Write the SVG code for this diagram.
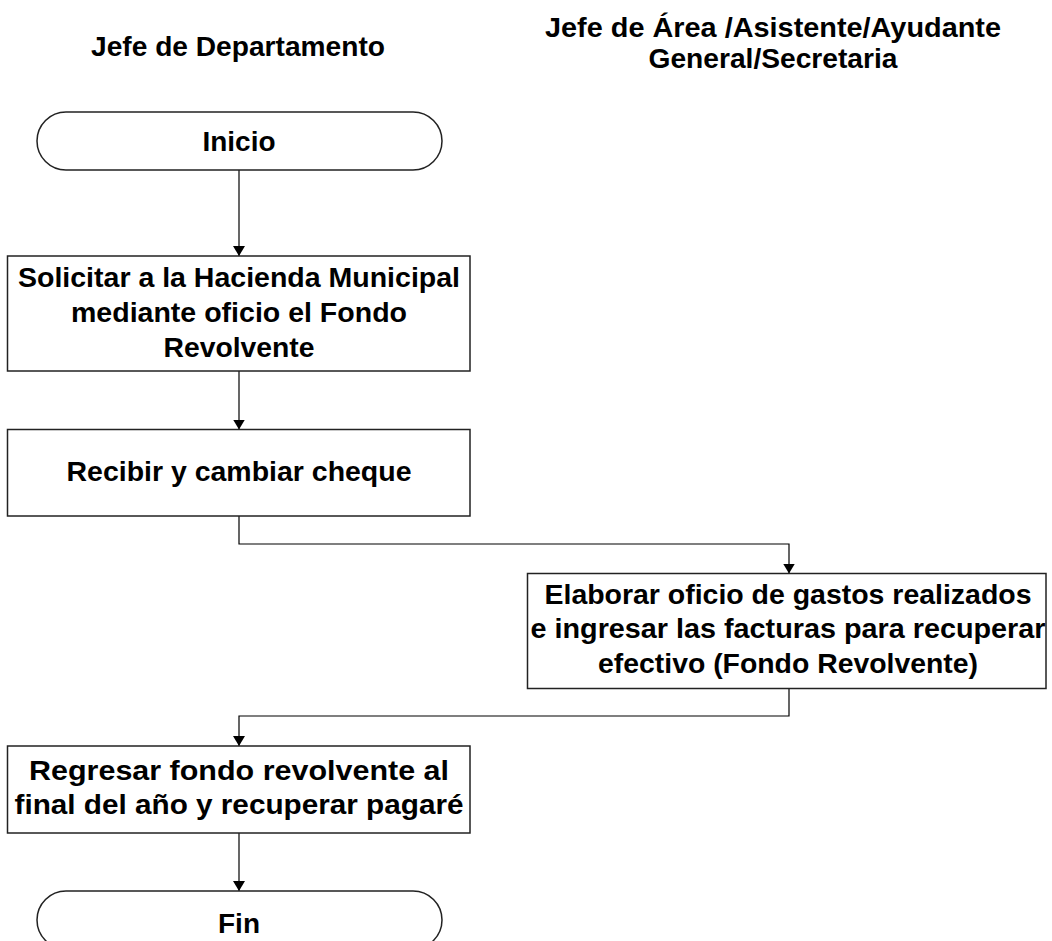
<svg xmlns="http://www.w3.org/2000/svg" width="1052" height="941" viewBox="0 0 1052 941">
<style>
.t{font-family:"Liberation Sans",Arial,sans-serif;font-weight:bold;font-size:28px;fill:#000;text-anchor:middle}
.box{fill:#fff;stroke:#222;stroke-width:1.5}
.ln{fill:none;stroke:#000;stroke-width:1.2}
</style>
<defs>
<marker id="ah" viewBox="0 0 10 12" refX="10" refY="6" markerWidth="10" markerHeight="12" markerUnits="userSpaceOnUse" orient="auto">
<path d="M0,0 L10,6 L0,12 Z" fill="#000"/>
</marker>
</defs>
<rect width="1052" height="941" fill="#fff"/>
<g id="headers">
<text class="t" x="238" y="56" textLength="294" lengthAdjust="spacingAndGlyphs">Jefe de Departamento</text>
<text class="t" x="773" y="37" textLength="456" lengthAdjust="spacingAndGlyphs">Jefe de Área /Asistente/Ayudante</text>
<text class="t" x="773" y="68" textLength="249" lengthAdjust="spacingAndGlyphs">General/Secretaria</text>
</g>
<g id="connectors">
<path class="ln" d="M239,170 V256" marker-end="url(#ah)"/>
<path class="ln" d="M239,371 V429.5" marker-end="url(#ah)"/>
<path class="ln" d="M239,516 V544 H789 V573.5" marker-end="url(#ah)"/>
<path class="ln" d="M789,688.5 V716 H239 V746" marker-end="url(#ah)"/>
<path class="ln" d="M239,833 V891" marker-end="url(#ah)"/>
</g>
<g id="inicio">
<rect class="box" x="37" y="112" width="405" height="58" rx="29" ry="29"/>
<text class="t" x="239" y="151" textLength="73" lengthAdjust="spacingAndGlyphs">Inicio</text>
</g>
<g id="solicitar">
<rect class="box" x="7.5" y="256" width="462.5" height="115"/>
<text class="t" x="239" y="287" textLength="442" lengthAdjust="spacingAndGlyphs">Solicitar a la Hacienda Municipal</text>
<text class="t" x="239" y="322" textLength="336" lengthAdjust="spacingAndGlyphs">mediante oficio el Fondo</text>
<text class="t" x="239" y="357" textLength="151" lengthAdjust="spacingAndGlyphs">Revolvente</text>
</g>
<g id="recibir">
<rect class="box" x="7.5" y="429.5" width="462.5" height="86.5"/>
<text class="t" x="239" y="481" textLength="345" lengthAdjust="spacingAndGlyphs">Recibir y cambiar cheque</text>
</g>
<g id="elaborar">
<rect class="box" x="527.5" y="573.5" width="518.5" height="115"/>
<text class="t" x="788" y="604" textLength="487" lengthAdjust="spacingAndGlyphs">Elaborar oficio de gastos realizados</text>
<text class="t" x="788" y="638" textLength="515" lengthAdjust="spacingAndGlyphs">e ingresar las facturas para recuperar</text>
<text class="t" x="788" y="673" textLength="380" lengthAdjust="spacingAndGlyphs">efectivo (Fondo Revolvente)</text>
</g>
<g id="regresar">
<rect class="box" x="7.5" y="746" width="462.5" height="87"/>
<text class="t" x="239" y="780" textLength="420" lengthAdjust="spacingAndGlyphs">Regresar fondo revolvente al</text>
<text class="t" x="239" y="814" textLength="449" lengthAdjust="spacingAndGlyphs">final del año y recuperar pagaré</text>
</g>
<g id="fin">
<rect class="box" x="37" y="891" width="405" height="58" rx="29" ry="29"/>
<text class="t" x="239" y="933" textLength="42" lengthAdjust="spacingAndGlyphs">Fin</text>
</g>
</svg>
